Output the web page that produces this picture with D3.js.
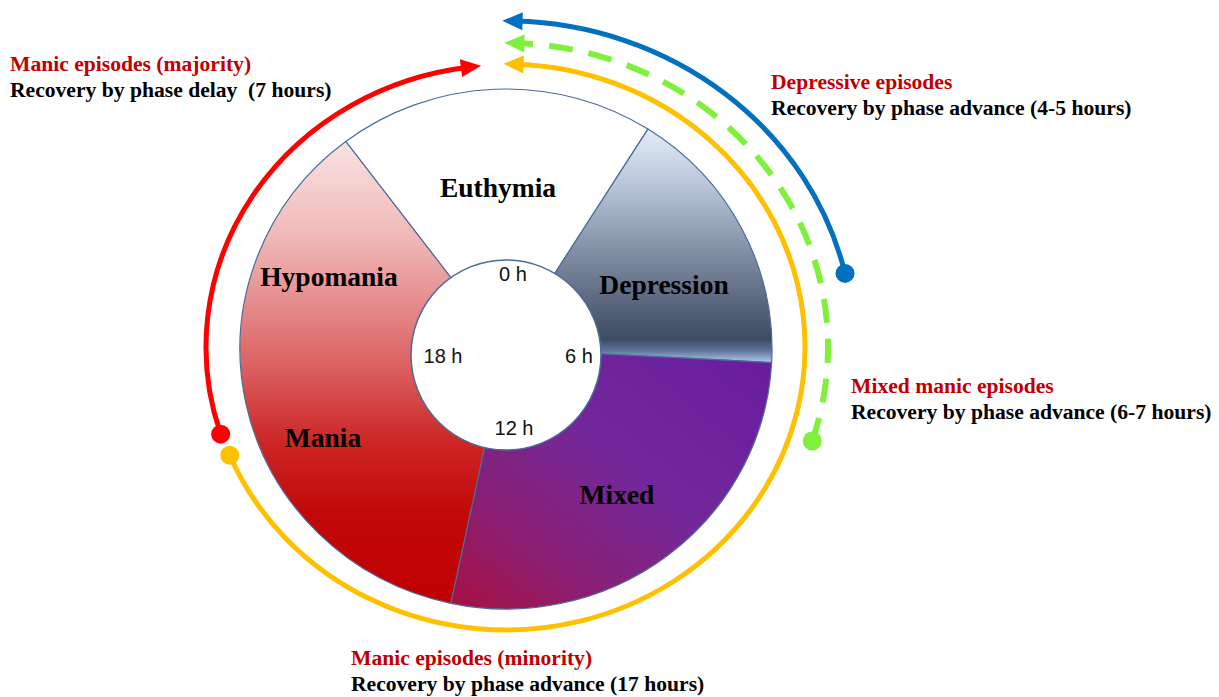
<!DOCTYPE html>
<html>
<head>
<meta charset="utf-8">
<script src="https://cdn.jsdelivr.net/npm/d3@7"></script>
<style>
  html, body { margin: 0; background: #fff; }
  svg { display: block; }
</style>
</head>
<body>
<svg id="chart" width="1219" height="697"></svg>
<script>
// Mood states placed on the 24 h clock (hours where each slice starts / ends)
const states = ["Euthymia", "Depression", "Mixed", "Mania"];
const stateStart = [-2.47, 2.15, 6.2, 12.8];
const stateEnd = [2.15, 6.2, 12.8, 21.53];

// Slice captions (Hypomania + Mania share one slice)
const captions = ["Euthymia", "Depression", "Mixed", "Hypomania", "Mania"];
const hourTicks = [0, 6, 12, 18];

// Recovery arcs: clock hour where the episode starts and the phase shift in hours
const episodes = ["majority", "minority", "mixed", "depressive"];
const episodeStart = [16.8, 16.5, 7.2, 5.13];
const episodeShift = [6.72, -16.37, -7.07, -5.03];

const titles = [
  "Manic episodes (majority)",
  "Manic episodes (minority)",
  "Mixed manic episodes",
  "Depressive episodes",
];
const subtitles = [
  "Recovery by phase delay\u00a0 (7 hours)",
  "Recovery by phase advance (17 hours)",
  "Recovery by phase advance (6-7 hours)",
  "Recovery by phase advance (4-5 hours)",
];

const svg = d3.select("#chart");
const defs = svg.append("defs");

const angle = d3.scaleLinear().domain([0, 24]).range([0, 2 * Math.PI]);

// --- gradients ---
const addGradient = (id, x1, y1, x2, y2, stops) => {
  const g = defs
    .append("linearGradient")
    .attr("id", id)
    .attr("x1", x1)
    .attr("y1", y1)
    .attr("x2", x2)
    .attr("y2", y2);
  stops.forEach(([o, c]) => g.append("stop").attr("offset", o).attr("stop-color", c));
};
addGradient("g-dep", 0, 0, 0, 1, [
  [0, "#e3ecf7"],
  [0.25, "#b7c4d7"],
  [0.5, "#8793a9"],
  [0.75, "#58657c"],
  [0.9, "#3e4a60"],
  [0.95, "#61769a"],
  [1, "#b0cdf0"],
]);
addGradient("g-mix", 1, 0, 0, 1, [
  [0, "#681c9f"],
  [0.45, "#72289a"],
  [0.75, "#8a1f74"],
  [1, "#a8103f"],
]);
addGradient("g-man", 0, 0, 0, 1, [
  [0, "#f9e2e2"],
  [0.2, "#f0baba"],
  [0.35, "#e68c8c"],
  [0.5, "#da5c5c"],
  [0.65, "#cd2626"],
  [0.8, "#c20909"],
  [1, "#c00000"],
]);
const fills = ["#ffffff", "url(#g-dep)", "url(#g-mix)", "url(#g-man)"];

// --- donut (slightly wider than tall, like the original) ---
const cx = 506, cy = 349;
const ringRy = 260, ringRx = 266;
const pie = svg
  .append("g")
  .attr("transform", `translate(${cx},${cy}) scale(${ringRx / ringRy},1)`);

const arc = d3.arc().innerRadius(0).outerRadius(ringRy);
pie
  .selectAll("path")
  .data(states)
  .join("path")
  .attr("d", (_d, i) => arc({ startAngle: angle(stateStart[i]), endAngle: angle(stateEnd[i]) }))
  .attr("fill", (_d, i) => fills[i])
  .attr("stroke", "#4a6c9b")
  .attr("stroke-width", 1.2)
  .attr("vector-effect", "non-scaling-stroke");

// inner clock face
const hub = { x: 506, y: 355, r: 95 };
svg
  .append("circle")
  .attr("cx", hub.x)
  .attr("cy", hub.y)
  .attr("r", hub.r)
  .attr("fill", "#fff")
  .attr("stroke", "#4a6c9b")
  .attr("stroke-width", 1.5);

const hourPos = [
  [513, 281],
  [579, 363],
  [514, 435],
  [443, 363],
];
svg
  .selectAll("text.hour")
  .data(hourTicks)
  .join("text")
  .attr("class", "hour")
  .attr("x", (_d, i) => hourPos[i][0])
  .attr("y", (_d, i) => hourPos[i][1])
  .attr("text-anchor", "middle")
  .attr("font-family", "'Liberation Sans', Arial, sans-serif")
  .attr("font-size", 20)
  .attr("fill", "#111")
  .text((d) => `${d} h`);

// slice captions
const captionPos = [
  [498, 197],
  [664, 294],
  [617, 504],
  [329, 286],
  [323, 447],
];
svg
  .selectAll("text.state")
  .data(captions)
  .join("text")
  .attr("class", "state")
  .attr("x", (_d, i) => captionPos[i][0])
  .attr("y", (_d, i) => captionPos[i][1])
  .attr("text-anchor", "middle")
  .attr("font-family", "'Liberation Serif', 'Times New Roman', serif")
  .attr("font-weight", "bold")
  .attr("font-size", 27.5)
  .attr("fill", "#000")
  .text((d) => d);

// --- recovery arcs ---
const arcColor = ["#ff0000", "#ffc000", "#7ff03c", "#0070c0"];
const arcRy = [282, 283, 304, 326];
const arcRx = [300, 299, 322, 348];
const acx = 506, acy = 347;

episodes.forEach((name, i) => {
  defs
    .append("marker")
    .attr("id", `head-${name}`)
    .attr("markerUnits", "userSpaceOnUse")
    .attr("viewBox", "-8 -10 22 20")
    .attr("refX", 0)
    .attr("refY", 0)
    .attr("markerWidth", 22)
    .attr("markerHeight", 20)
    .attr("orient", "auto")
    .append("path")
    .attr("d", "M12,0 L-7,-9 L-7,9 Z")
    .attr("fill", arcColor[i]);
});

episodes.forEach((name, i) => {
  const a0 = angle(episodeStart[i]);
  const a1 = angle(episodeStart[i] + episodeShift[i]);
  const p = d3.path();
  p.arc(0, 0, arcRy[i], a0 - Math.PI / 2, a1 - Math.PI / 2, episodeShift[i] < 0);

  const g = svg
    .append("g")
    .attr("transform", `translate(${acx},${acy}) scale(${arcRx[i] / arcRy[i]},1)`);
  g.append("path")
    .attr("d", p.toString())
    .attr("fill", "none")
    .attr("stroke", arcColor[i])
    .attr("stroke-width", name === "mixed" ? 6 : 5)
    .attr("stroke-dasharray", name === "mixed" ? "24,16" : null)
    .attr("vector-effect", "non-scaling-stroke")
    .attr("marker-end", `url(#head-${name})`);

  svg
    .append("circle")
    .attr("cx", acx + arcRx[i] * Math.sin(a0))
    .attr("cy", acy - arcRy[i] * Math.cos(a0))
    .attr("r", 9.5)
    .attr("fill", arcColor[i]);
});

// --- annotations ---
const notePos = [
  [10, 71],
  [351, 665],
  [851, 393],
  [771, 89],
];
const notes = svg
  .selectAll("g.note")
  .data(episodes)
  .join("g")
  .attr("class", "note")
  .attr("font-family", "'Liberation Serif', 'Times New Roman', serif")
  .attr("font-weight", "bold")
  .attr("font-size", 21.6);

notes
  .append("text")
  .attr("x", (_d, i) => notePos[i][0])
  .attr("y", (_d, i) => notePos[i][1])
  .attr("fill", "#c00000")
  .text((_d, i) => titles[i]);

notes
  .append("text")
  .attr("x", (_d, i) => notePos[i][0])
  .attr("y", (_d, i) => notePos[i][1] + 26)
  .attr("fill", "#000")
  .text((_d, i) => subtitles[i]);
</script>
</body>
</html>
